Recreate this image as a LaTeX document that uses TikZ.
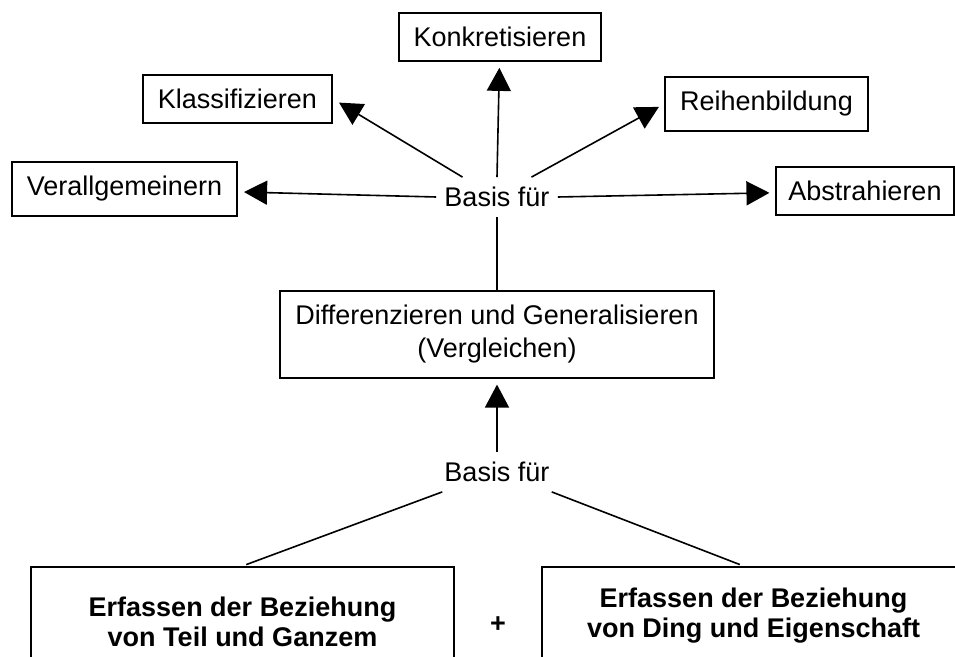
\documentclass[tikz,border=0pt]{standalone}
\usepackage{fontspec}
\setmainfont{Liberation Sans}
\usetikzlibrary{arrows.meta}

\begin{document}
\begin{tikzpicture}[
		x=0.5pt,y=-0.5pt,
		box/.style={draw,line width=1pt,inner xsep=7.5pt,inner ysep=7pt},
		lbl/.style={inner xsep=3.75pt,inner ysep=4.6pt},
		bigbox/.style={draw,line width=1pt,minimum width=211.5pt,align=center,anchor=north,
			font=\bfseries\fontsize{13.5}{15}\selectfont},
		>={Triangle[length=11.5pt,width=12pt]},
		font=\fontsize{13.5}{16.5}\selectfont,
		line width=0.8pt]
	\useasboundingbox (0,0) rectangle (955,657);
	\clip (0,0) rectangle (955,657);
	%% upper part
	\node (basisA) at (497,197) [lbl] {Basis für};
	\node (konk) at (500,37) [box] {Konkretisieren};
	\node (klass) at (237.5,99) [box] {Klassifizieren};
	\node (reih) at (766.5,104) [box] {Reihenbildung};
	\node (verall) at (124.5,189) [box] {Verallgemeinern};
	\node (abstr) at (865,191) [box,inner xsep=6pt] {Abstrahieren};
	\draw[->,shorten >=3pt] (basisA.west) -- (verall);
	\draw[->,shorten >=3pt] (basisA.east) -- (abstr);
	\draw[->,shorten >=3.5pt] (basisA.150) -- (klass.east);
	\draw[->,shorten >=3pt] (basisA.north) -- (konk);
	\draw[->,shorten >=3pt] (basisA.30) -- (reih.west);
	%% middle
	\node (diff) at (497,334.5) [box,align=center] {Differenzieren und Generalisieren\\(Vergleichen)};
	\draw (basisA.south) -- (diff);
	%% lower part
	\node (basisB) at (497,472) [lbl] {Basis für};
	\draw[->,shorten >=3pt] (basisB.north) -- (diff);
	\node (teil) at (242.5,566) [bigbox,minimum height=55pt] {Erfassen der Beziehung\\von Teil und Ganzem};
	\node (ding) at (753.5,566) [bigbox,minimum height=49pt] {Erfassen der Beziehung\\von Ding und Eigenschaft};
	\node (plus) at (498,625) {\textbf{+}};
	\draw[shorten >=2pt] (basisB.-160) -- (teil.north);
	\draw[shorten >=2pt] (basisB.-20) -- ([xshift=-5pt]ding.north);
\end{tikzpicture}
\end{document}
